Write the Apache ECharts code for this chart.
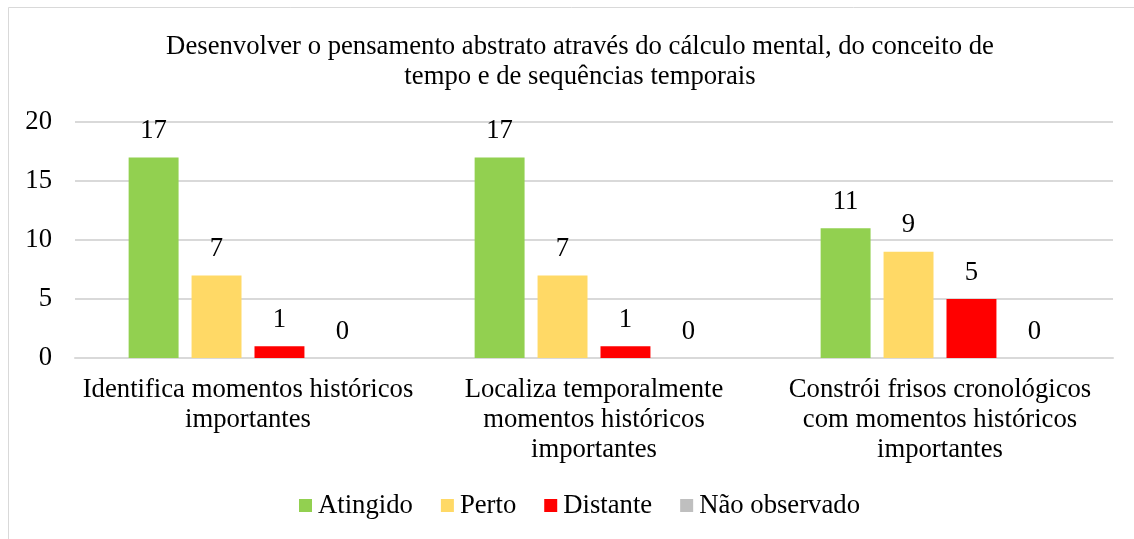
<!DOCTYPE html>
<html>
<head>
<meta charset="utf-8">
<script src="https://cdn.jsdelivr.net/npm/echarts@6/dist/echarts.min.js"></script>
<style>
  html, body { margin: 0; padding: 0; background: #fff; }
  #myChart { width: 1134px; height: 539px; }
</style>
</head>
<body>
<div id="myChart"></div>
<script>
// dados do gráfico
const titulo = 'Desenvolver o pensamento abstrato através do cálculo mental, do conceito de\ntempo e de sequências temporais'
const categorias = [
  'Identifica momentos históricos\nimportantes',
  'Localiza temporalmente\nmomentos históricos\nimportantes',
  'Constrói frisos cronológicos\ncom momentos históricos\nimportantes'
]
const atingido = [17, 17, 11]
const perto = [7, 7, 9]
const distante = [1, 1, 5]
const naoObservado = [0, 0, 0]
const yTicks = [0, 5, 10, 15, 20]

const fonte = '"Liberation Serif", "Times New Roman", serif'
const tam = 26.7

function serie(name, data, color) {
  return {
    name: name,
    type: 'bar',
    data: data,
    barGap: '26%',
    barCategoryGap: '31%',
    itemStyle: { color: color },
    label: {
      show: true,
      position: 'top',
      distance: 13,
      color: '#000',
      fontFamily: fonte,
      fontSize: tam
    }
  }
}

const myChart = echarts.init(document.getElementById('myChart'))
const option = {
  animation: false,
  backgroundColor: '#fff',
  title: {
    text: titulo,
    left: 575,
    top: 27,
    textAlign: 'center',
    textStyle: {
      fontFamily: fonte,
      fontSize: tam,
      fontWeight: 'normal',
      color: '#000',
      lineHeight: 30
    }
  },
  graphic: [{
    type: 'rect',
    shape: { x: 8.5, y: 7.5, width: 1140, height: 545 },
    style: { fill: 'none', stroke: '#d9d9d9', lineWidth: 1 },
    silent: true
  }],
  legend: {
    data: ['Atingido', 'Perto', 'Distante', 'Não observado'],
    left: 294,
    top: 487,
    itemWidth: 13,
    itemHeight: 13,
    itemGap: 28,
    icon: 'rect',
    textStyle: { fontFamily: fonte, fontSize: tam, color: '#000', padding: [0, 0, 0, 1] }
  },
  grid: { left: 75, right: 21, top: 122, bottom: 181, containLabel: false },
  xAxis: {
    type: 'category',
    data: categorias,
    axisLine: { show: true, lineStyle: { color: '#d9d9d9', width: 2 } },
    axisTick: { show: false },
    axisLabel: {
      interval: 0,
      margin: 17,
      fontFamily: fonte,
      fontSize: tam,
      color: '#000',
      lineHeight: 30
    }
  },
  yAxis: {
    type: 'value',
    min: yTicks[0],
    max: yTicks[yTicks.length - 1],
    interval: yTicks[1] - yTicks[0],
    axisLine: { show: false },
    axisTick: { show: false },
    splitLine: { lineStyle: { color: '#d9d9d9', width: 2 } },
    axisLabel: {
      margin: 23,
      fontFamily: fonte,
      fontSize: tam,
      color: '#000'
    }
  },
  series: [
    serie('Atingido', atingido, '#92D050'),
    serie('Perto', perto, '#FFD966'),
    serie('Distante', distante, '#FF0000'),
    serie('Não observado', naoObservado, '#BFBFBF')
  ]
}
myChart.setOption(option)
window.addEventListener('resize', () => {
  myChart.resize()
})
</script>
</body>
</html>
